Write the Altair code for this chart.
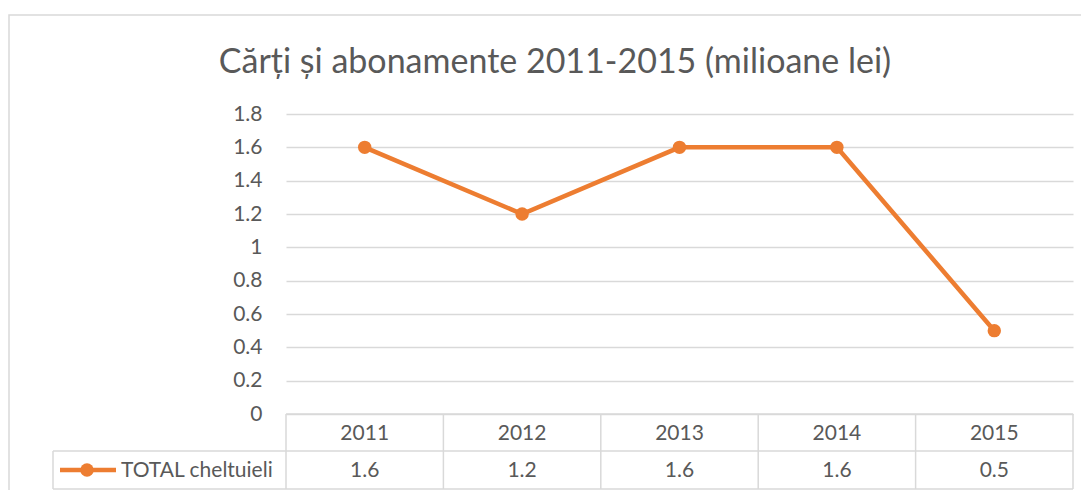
import altair as alt
import pandas as pd

years = ["2011", "2012", "2013", "2014", "2015"]
values = [1.6, 1.2, 1.6, 1.6, 0.5]
value_labels = ["1.6", "1.2", "1.6", "1.6", "0.5"]
series_name = "TOTAL cheltuieli"
title_text = "Cărți și abonamente 2011-2015 (milioane lei)"
y_ticks = [0, 0.2, 0.4, 0.6, 0.8, 1.0, 1.2, 1.4, 1.6, 1.8]

ORANGE = "#ED7D31"
GRID = "#D9D9D9"
TXT = "#595959"
FONT = "Lato"
FS = 21

W, H = 787, 300
ROW1 = 37   # years row height
ROW2 = 38   # values row height

df = pd.DataFrame({"year": years, "value": values, "label": value_labels})

xscale = alt.Scale(domain=years, paddingInner=0, paddingOuter=0)
yscale = alt.Scale(domain=[0, 1.8], nice=False)
y_axis = alt.Axis(values=y_ticks, grid=True, gridColor=GRID, gridWidth=1.5,
                  domain=False, ticks=False, labelPadding=24, labelOverlap=False,
                  labelFontSize=FS, labelColor=TXT, labelFont=FONT,
                  labelBound=False, labelFlush=False, title=None,
                  labelExpr="datum.value == 1 ? '1' : datum.value == 0 ? '0' : format(datum.value, '.1f')")
y_enc = alt.Y("value:Q", scale=yscale, axis=y_axis)
x_mid = alt.X("year:N", scale=xscale, axis=None, bandPosition=0.5)

base = alt.Chart(df)
one = pd.DataFrame({"k": [0]})

# outer border
border = alt.Chart(one).mark_rect(
    fill=None, stroke=GRID, strokeWidth=1.5, clip=False
).encode(x=alt.value(-277), x2=alt.value(W + 200), y=alt.value(-99), y2=alt.value(H + 200))

# title
title = alt.Chart(pd.DataFrame({"t": [title_text]})).mark_text(
    fontSize=34, font=FONT, color=TXT, align="center", baseline="middle"
).encode(x=alt.value(269), y=alt.value(-51), text="t:N")

line = base.mark_line(color=ORANGE, strokeWidth=4.5).encode(x=x_mid, y=y_enc)
points = base.mark_point(filled=True, color=ORANGE, size=180, opacity=1).encode(x=x_mid, y=y_enc)

# table text
year_text = base.mark_text(fontSize=FS, color=TXT, font=FONT, baseline="middle").encode(
    x=x_mid, y=alt.value(H + ROW1 / 2 + 1), text="year:N")
val_text = base.mark_text(fontSize=FS, color=TXT, font=FONT, baseline="middle").encode(
    x=x_mid, y=alt.value(H + ROW1 + ROW2 / 2 + 1), text="label:N")

# table lines
hl_top = alt.Chart(one).mark_rule(color=GRID, strokeWidth=1.5).encode(
    x=alt.value(0), x2=alt.value(W), y=alt.value(H))
hl_mid = alt.Chart(one).mark_rule(color=GRID, strokeWidth=1.5).encode(
    x=alt.value(-233), x2=alt.value(W), y=alt.value(H + ROW1))
hl_bot = alt.Chart(one).mark_rule(color=GRID, strokeWidth=1.5).encode(
    x=alt.value(-233), x2=alt.value(W), y=alt.value(H + ROW1 + ROW2))
vlines = base.mark_rule(color=GRID, strokeWidth=1.5).encode(
    x=alt.X("year:N", scale=xscale, axis=None, bandPosition=0),
    y=alt.value(H), y2=alt.value(H + ROW1 + ROW2),
)
vline_last = alt.Chart(df.iloc[[-1]]).mark_rule(color=GRID, strokeWidth=1.5).encode(
    x=alt.X("year:N", scale=xscale, axis=None, bandPosition=1),
    y=alt.value(H), y2=alt.value(H + ROW1 + ROW2),
)
vline_leg = alt.Chart(one).mark_rule(color=GRID, strokeWidth=1.5).encode(
    x=alt.value(-233), y=alt.value(H + ROW1), y2=alt.value(H + ROW1 + ROW2))

# legend key in table
leg_df = pd.DataFrame({"name": [series_name]})
leg_line = alt.Chart(leg_df).mark_rule(color=ORANGE, strokeWidth=4.5).encode(
    x=alt.value(-226), x2=alt.value(-170), y=alt.value(H + ROW1 + ROW2 / 2))
leg_pt = alt.Chart(leg_df).mark_point(filled=True, color=ORANGE, size=180, opacity=1).encode(
    x=alt.value(-199), y=alt.value(H + ROW1 + ROW2 / 2))
leg_txt = alt.Chart(leg_df).mark_text(fontSize=FS, color=TXT, font=FONT, align="left",
                                      baseline="middle").encode(
    x=alt.value(-165), y=alt.value(H + ROW1 + ROW2 / 2 + 1), text="name:N")

chart = alt.layer(
    border, title, hl_top, hl_mid, hl_bot, vlines, vline_last, vline_leg,
    line, points, year_text, val_text, leg_line, leg_pt, leg_txt,
).properties(
    width=W, height=H,
    autosize=alt.AutoSizeParams(type="none"),
    padding={"left": 278, "top": 106, "right": 8, "bottom": 76},
).configure_view(stroke=None)

chart.save("out.html", embed_options={"renderer": "svg", "actions": False})
